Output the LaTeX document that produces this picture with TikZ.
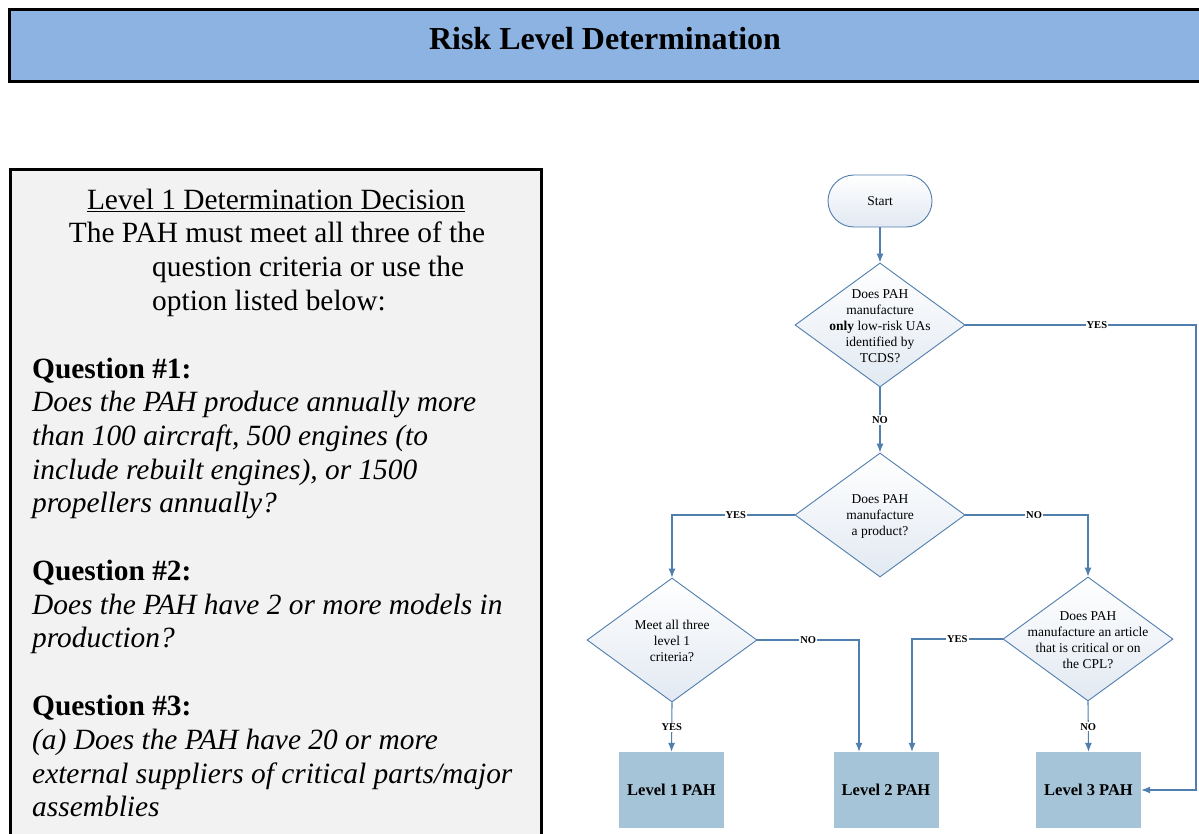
\documentclass[tikz,border=0pt]{standalone}
\usepackage{fontspec}
\setmainfont{Liberation Serif}
\usetikzlibrary{shapes.geometric,arrows.meta,calc}
\definecolor{titlebg}{RGB}{141,179,226}
\definecolor{panelbg}{RGB}{242,242,242}
\definecolor{flow}{RGB}{80,126,174}
\definecolor{boxbg}{RGB}{166,196,216}
\definecolor{diabot}{RGB}{226,233,242}
\begin{document}
\begin{tikzpicture}[x=1pt,y=-1pt,
  body/.style={font=\fontsize{29.4}{34}\selectfont, inner sep=0pt},
  dia/.style={diamond, draw=flow, line width=0.9pt, minimum width=170pt, minimum height=124pt, inner sep=0pt, top color=white, bottom color=diabot},
  diatext/.style={align=center, font=\fontsize{13.5}{16}\selectfont, inner sep=0pt},
  startbox/.style={rectangle, rounded corners=26pt, draw=flow, line width=0.9pt, minimum width=104pt, minimum height=52pt, top color=white, bottom color=diabot, font=\fontsize{13.5}{16}\selectfont},
  levelbox/.style={rectangle, fill=boxbg, minimum width=105pt, minimum height=76pt, font=\fontsize{16.5}{19}\selectfont\bfseries},
  conn/.style={draw=flow, line width=1.1pt, -{Latex[length=9pt,width=7pt]}},
  lbl/.style={fill=white, inner sep=1pt, font=\fontsize{10.5}{12}\selectfont\bfseries}
]
\clip (0,0) rectangle (1199,834);
\fill[white] (0,0) rectangle (1199,834);

% title bar
\draw[line width=3pt, fill=titlebg] (9,10) rectangle (1215,82);
\node[font=\fontsize{32}{38}\selectfont\bfseries, anchor=base, inner sep=0pt] (title) at (605,50) {Risk Level Determination};

% left panel
\draw[line width=3pt, fill=panelbg] (10,170) rectangle (541,900);
\node[body, anchor=base] (h1) at (276,210) {\underline{Level 1 Determination Decision}};
\node[body, anchor=base] (h2) at (277,243) {The PAH must meet all three of the};
\node[body, anchor=base west] (h3) at (152,277) {question criteria or use the};
\node[body, anchor=base west] (h4) at (152,310) {option listed below:};
\node[body, anchor=base west] (q1) at (32,378) {\textbf{Question \#1:}};
\node[body, anchor=base west] (q1a) at (32,411) {\textit{Does the PAH produce annually more}};
\node[body, anchor=base west] (q1b) at (32,445) {\textit{than 100 aircraft, 500 engines (to}};
\node[body, anchor=base west] (q1c) at (32,479) {\textit{include rebuilt engines), or 1500}};
\node[body, anchor=base west] (q1d) at (32,512) {\textit{propellers annually?}};
\node[body, anchor=base west] (q2) at (32,580) {\textbf{Question \#2:}};
\node[body, anchor=base west] (q2a) at (32,614) {\textit{Does the PAH have 2 or more models in}};
\node[body, anchor=base west] (q2b) at (32,647) {\textit{production?}};
\node[body, anchor=base west] (q3) at (32,715) {\textbf{Question \#3:}};
\node[body, anchor=base west] (q3a) at (32,749) {\textit{(a) Does the PAH have 20 or more}};
\node[body, anchor=base west] (q3b) at (32,783) {\textit{external suppliers of critical parts/major}};
\node[body, anchor=base west] (q3c) at (32,816) {\textit{assemblies}};

% flowchart
\node[startbox] (start) at (880,201) {Start};
\node[dia] (d1) at (880,325) {};
\node[diatext] (d1t) at (880,326) {Does PAH\\manufacture\\\textbf{only} low-risk UAs\\identified by\\TCDS?};
\node[dia] (d2) at (880,515) {};
\node[diatext] (d2t) at (880,516) {Does PAH\\manufacture\\a product?};
\node[dia] (d3) at (672,640) {};
\node[diatext] (d3t) at (672,641) {Meet all three\\level 1\\criteria?};
\node[dia] (d4) at (1088,639) {};
\node[diatext] (d4t) at (1088,640) {Does PAH\\manufacture an article\\that is critical or on\\the CPL?};

\node[levelbox] (L1) at (671.5,790) {Level 1 PAH};
\node[levelbox] (L2) at (886,790) {Level 2 PAH};
\node[levelbox] (L3) at (1088.5,790) {Level 3 PAH};

\coordinate (rx) at (1196,0);
\coordinate (L2a) at ($(L2.north)+(-27,0)$);
\coordinate (L2b) at ($(L2.north)+(26,0)$);

\draw[conn] (start) -- (d1.north);
\draw[conn] (d1.east) -- node[lbl,pos=0.57]{YES} (d1.east -| rx) |- (L3.east);
\draw[conn] (d1.south) -- node[lbl]{NO} (d2.north);
\draw[conn] (d2.west) -- node[lbl,pos=0.48]{YES} (d2.west -| d3.north) -- (d3.north);
\draw[conn] (d2.east) -- node[lbl,pos=0.56]{NO} (d2.east -| d4.north) -- (d4.north);
\draw[conn] (d3.east) -- node[lbl]{NO} (d3.east -| L2a) -- (L2a);
\draw[conn] (d4.west) -- node[lbl]{YES} (d4.west -| L2b) -- (L2b);
\draw[conn] (d3.south) -- node[lbl]{YES} (L1.north);
\draw[conn] (d4.south) -- node[lbl]{NO} (L3.north);
\end{tikzpicture}
\end{document}
